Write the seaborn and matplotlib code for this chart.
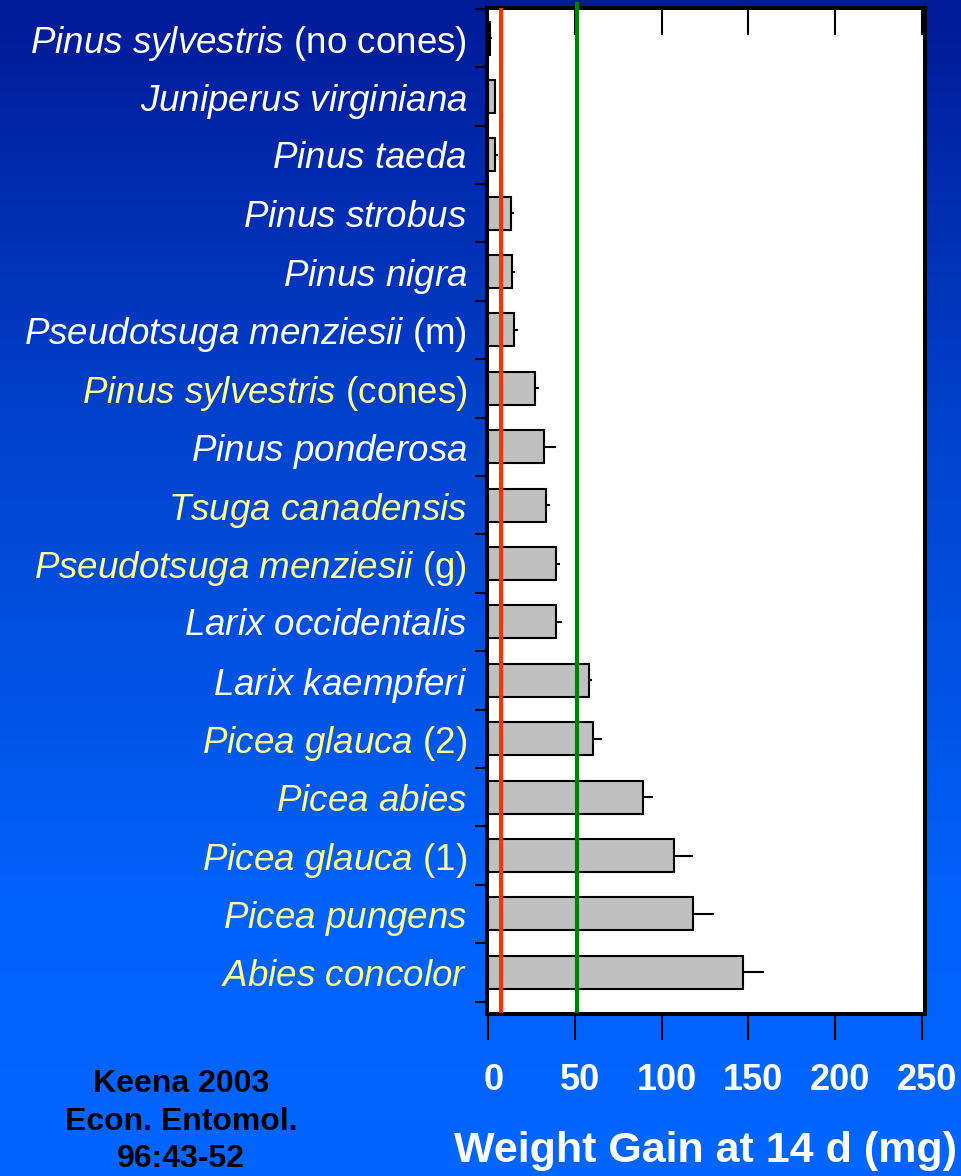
import matplotlib
matplotlib.use('Agg')
import matplotlib.pyplot as plt
import matplotlib.transforms as mtransforms
import numpy as np
import pandas as pd
import seaborn as sns

# host species, top to bottom as in the slide
species = ['Pinus sylvestris', 'Juniperus virginiana', 'Pinus taeda', 'Pinus strobus',
           'Pinus nigra', 'Pseudotsuga menziesii', 'Pinus sylvestris', 'Pinus ponderosa',
           'Tsuga canadensis', 'Pseudotsuga menziesii', 'Larix occidentalis', 'Larix kaempferi',
           'Picea glauca', 'Picea abies', 'Picea glauca', 'Picea pungens', 'Abies concolor']
qualifiers = ['(no cones)', '', '', '', '', '(m)', '(cones)', '', '', '(g)', '', '',
              '(2)', '', '(1)', '', '']
yellow_label = [False, False, False, False, False, False, True, False, True, True,
                False, False, True, True, True, True, True]
weight_gain = [1.2, 3.7, 4.0, 13.1, 13.7, 14.8, 27.0, 32.3, 33.1, 38.9, 38.9,
               58.1, 60.4, 89.4, 107.3, 118.1, 147.1]
std_err = [0.8, 1.0, 1.4, 1.5, 1.5, 2.1, 2.1, 6.7, 2.3, 2.5, 3.8,
           1.9, 5.2, 5.8, 11.0, 11.9, 11.8]
x_ticks = [0, 50, 100, 150, 200, 250]
red_line = 7.3
green_line = 51
citation = 'Keena 2003\nEcon. Entomol.\n96:43-52'

plt.rcParams['font.family'] = 'Liberation Sans'
plt.rcParams['mathtext.fontset'] = 'custom'
plt.rcParams['mathtext.it'] = 'Liberation Sans:italic'
plt.rcParams['mathtext.rm'] = 'Liberation Sans'


def make_label(name, qual):
    text = r'$\mathit{' + name.replace(' ', r'\ ') + '}$'
    if qual:
        text += ' ' + qual
    return text


labels = [make_label(s, q) for s, q in zip(species, qualifiers)]
n = len(labels)

fig = plt.figure(figsize=(9.62, 11.76), dpi=100)

# slide background: vertical blue gradient
bg = fig.add_axes([0, 0, 1, 1], zorder=-5)
rows = np.linspace(0, 1, 400)
stops = [0, 0.36, 0.77, 1.0]
g = np.interp(rows, stops, [26, 66, 98, 102]) / 255
b = np.interp(rows, stops, [152, 204, 250, 255]) / 255
grad = np.stack([np.zeros_like(g), g, b], axis=1)[:, None, :]
bg.imshow(grad, aspect='auto')
bg.set_axis_off()

ax = fig.add_axes([486.7 / 962, 1 - 1013.8 / 1176, 438 / 962, 1005.8 / 1176])
ax.set_facecolor('white')

df = pd.DataFrame({'label': labels, 'gain': weight_gain})
sns.barplot(data=df, x='gain', y='label', orient='h', color='#C0C0C0', saturation=1,
            edgecolor='black', linewidth=1.5, width=0.565, errorbar=None, ax=ax, zorder=2)
ax.errorbar(weight_gain, np.arange(n), xerr=[np.zeros(n), std_err], fmt='none',
            ecolor='black', elinewidth=1.5, capsize=0, zorder=1.9)

ax.axvline(red_line, color='#FF3300', lw=3, ymin=0.003, ymax=1.0, zorder=3)
ax.axvline(green_line, color='#008000', lw=3, ymin=0.003, ymax=1.004, zorder=3, clip_on=False)

ax.set_xlim(-0.9, 251.8)
ax.set_ylim(16.71, -0.514)
ax.set_xticks(x_ticks)
ax.set_yticks(range(n))
ax.set_yticklabels(labels)
ax.set_yticks(np.arange(-0.5, n), minor=True)

for side in ['top', 'bottom', 'left', 'right']:
    ax.spines[side].set_linewidth(2.9)
    ax.spines[side].set_color('black')

ax.tick_params(axis='y', which='major', length=0, pad=14, labelsize=26.5)
ax.tick_params(axis='y', which='minor', length=8.5, width=1.5, direction='out', color='black')
ax.tick_params(axis='x', which='major', direction='out', length=19, width=1.5, pad=16.5,
               labelsize=26, labelcolor='white', top=False)

for lbl, yel in zip(ax.get_yticklabels(), yellow_label):
    lbl.set_color('#FFFF99' if yel else 'white')

shift = mtransforms.ScaledTranslation(5 / 100, 0, fig.dpi_scale_trans)
for lbl in ax.get_xticklabels():
    lbl.set_fontweight('bold')
    lbl.set_transform(lbl.get_transform() + shift)

top = ax.secondary_xaxis('top')
top.set_xticks(x_ticks)
top.tick_params(direction='in', length=19.5, width=1.5, labeltop=False, color='black')
top.spines['top'].set_visible(False)

ax.set_ylabel('')
ax.set_xlabel('Weight Gain at 14 d (mg)', fontsize=31, fontweight='bold', color='white',
              labelpad=24)

fig.text(181 / 962, 1 - 1069 / 1176, citation, ha='center', va='top', fontsize=23,
         fontweight='bold', color='black', linespacing=1.33)

fig.savefig('out.png', dpi=100)
